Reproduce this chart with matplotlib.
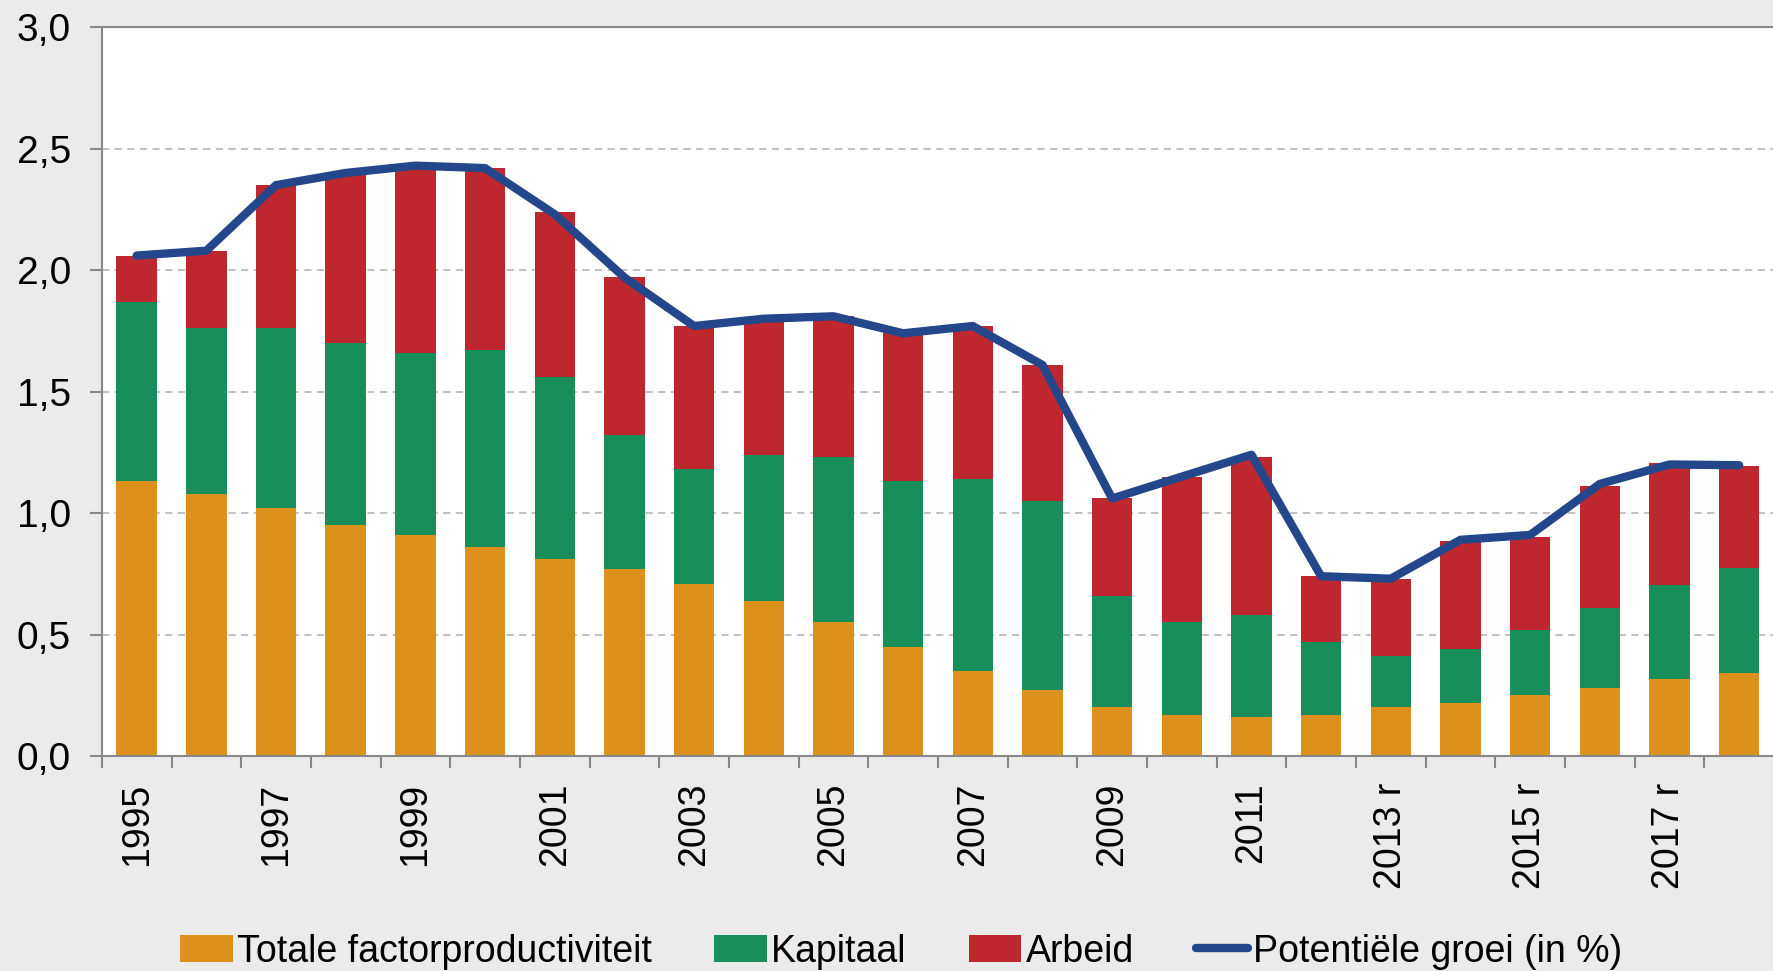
import matplotlib.pyplot as plt
import numpy as np

plt.rcParams['font.family'] = ['Liberation Sans', 'DejaVu Sans']

# Data
years = ['1995', '1996', '1997', '1998', '1999', '2000', '2001', '2002', '2003',
         '2004', '2005', '2006', '2007', '2008', '2009', '2010', '2011', '2012',
         '2013 r', '2014 r', '2015 r', '2016 r', '2017 r', '2018 r']
tfp = [1.13, 1.08, 1.02, 0.95, 0.91, 0.86, 0.81, 0.77, 0.71, 0.64, 0.55, 0.45,
       0.35, 0.27, 0.20, 0.17, 0.16, 0.17, 0.20, 0.22, 0.25, 0.28, 0.315, 0.34]
kapitaal = [0.74, 0.68, 0.74, 0.75, 0.75, 0.81, 0.75, 0.55, 0.47, 0.60, 0.68, 0.68,
            0.79, 0.78, 0.46, 0.38, 0.42, 0.30, 0.21, 0.22, 0.27, 0.33, 0.39, 0.435]
arbeid = [0.19, 0.32, 0.59, 0.70, 0.77, 0.75, 0.68, 0.65, 0.59, 0.56, 0.58, 0.61,
          0.63, 0.56, 0.40, 0.60, 0.65, 0.27, 0.32, 0.445, 0.38, 0.50, 0.50, 0.42]
potentieel = [2.06, 2.08, 2.35, 2.40, 2.43, 2.42, 2.23, 1.97, 1.77, 1.80, 1.81, 1.74,
              1.77, 1.61, 1.06, 1.15, 1.24, 0.74, 0.73, 0.89, 0.91, 1.12, 1.20, 1.197]

c_tfp = '#DB911C'
c_kap = '#188E5B'
c_arb = '#BE272E'
c_line = '#23478A'

fig = plt.figure(figsize=(17.74, 9.71), dpi=100, facecolor='#EBEBEB')
ax = fig.add_axes([0.0574, 0.2214, 0.9426, 0.7506])
ax.set_facecolor('white')

x = np.arange(len(years))
w = 0.58
tfp = np.array(tfp)
kapitaal = np.array(kapitaal)
arbeid = np.array(arbeid)
b1 = ax.bar(x, tfp, w, color=c_tfp, label='Totale factorproductiviteit', zorder=2)
b2 = ax.bar(x, kapitaal, w, bottom=tfp, color=c_kap, label='Kapitaal', zorder=2)
b3 = ax.bar(x, arbeid, w, bottom=tfp + kapitaal, color=c_arb, label='Arbeid', zorder=2)
ln, = ax.plot(x, potentieel, color=c_line, lw=6, solid_capstyle='round',
              solid_joinstyle='round', label='Potentiële groei (in %)', zorder=3)

ax.set_xlim(-0.5, len(years) - 0.5)
ax.set_ylim(0, 3.0)

# y axis
yt = np.arange(0, 3.01, 0.5)
ax.set_yticks(yt)
ax.set_yticklabels([f'{v:.1f}'.replace('.', ',') for v in yt])
for v in yt[1:-1]:
    ax.axhline(v, color='#BBBBBB', lw=1.3, ls=(0, (4, 3)), zorder=1)
ax.tick_params(axis='y', direction='out', length=8.3, width=1.5, color='#888888',
               pad=14, labelsize=28)

# x axis: tick marks between bars, labels on every other bar
ax.set_xticks(np.arange(-0.5, len(years)), labels=[])
ax.set_xticks(x[::2], labels=years[::2], minor=True, rotation=90)
ax.tick_params(axis='x', which='major', direction='out', length=8.3, width=1.5,
               color='#888888')
ax.tick_params(axis='x', which='minor', length=0, pad=19, labelsize=27)
for lbl in ax.get_xticklabels(minor=True):
    lbl.set_verticalalignment('top')

for s in ['left', 'bottom', 'top']:
    ax.spines[s].set_color('#888888')
    ax.spines[s].set_linewidth(1.5)
ax.spines['right'].set_visible(False)

leg = fig.legend([b1, b2, b3, ln],
                 [b1.get_label(), b2.get_label(), b3.get_label(), ln.get_label()],
                 loc='center', bbox_to_anchor=(0.508, 0.02), ncol=4, frameon=False,
                 fontsize=27, handlelength=1.4, handleheight=0.75, handletextpad=0.12,
                 columnspacing=1.65)
leg.get_lines()[0].set_solid_capstyle('round')

fig.savefig('out.png', dpi=100, facecolor=fig.get_facecolor())
